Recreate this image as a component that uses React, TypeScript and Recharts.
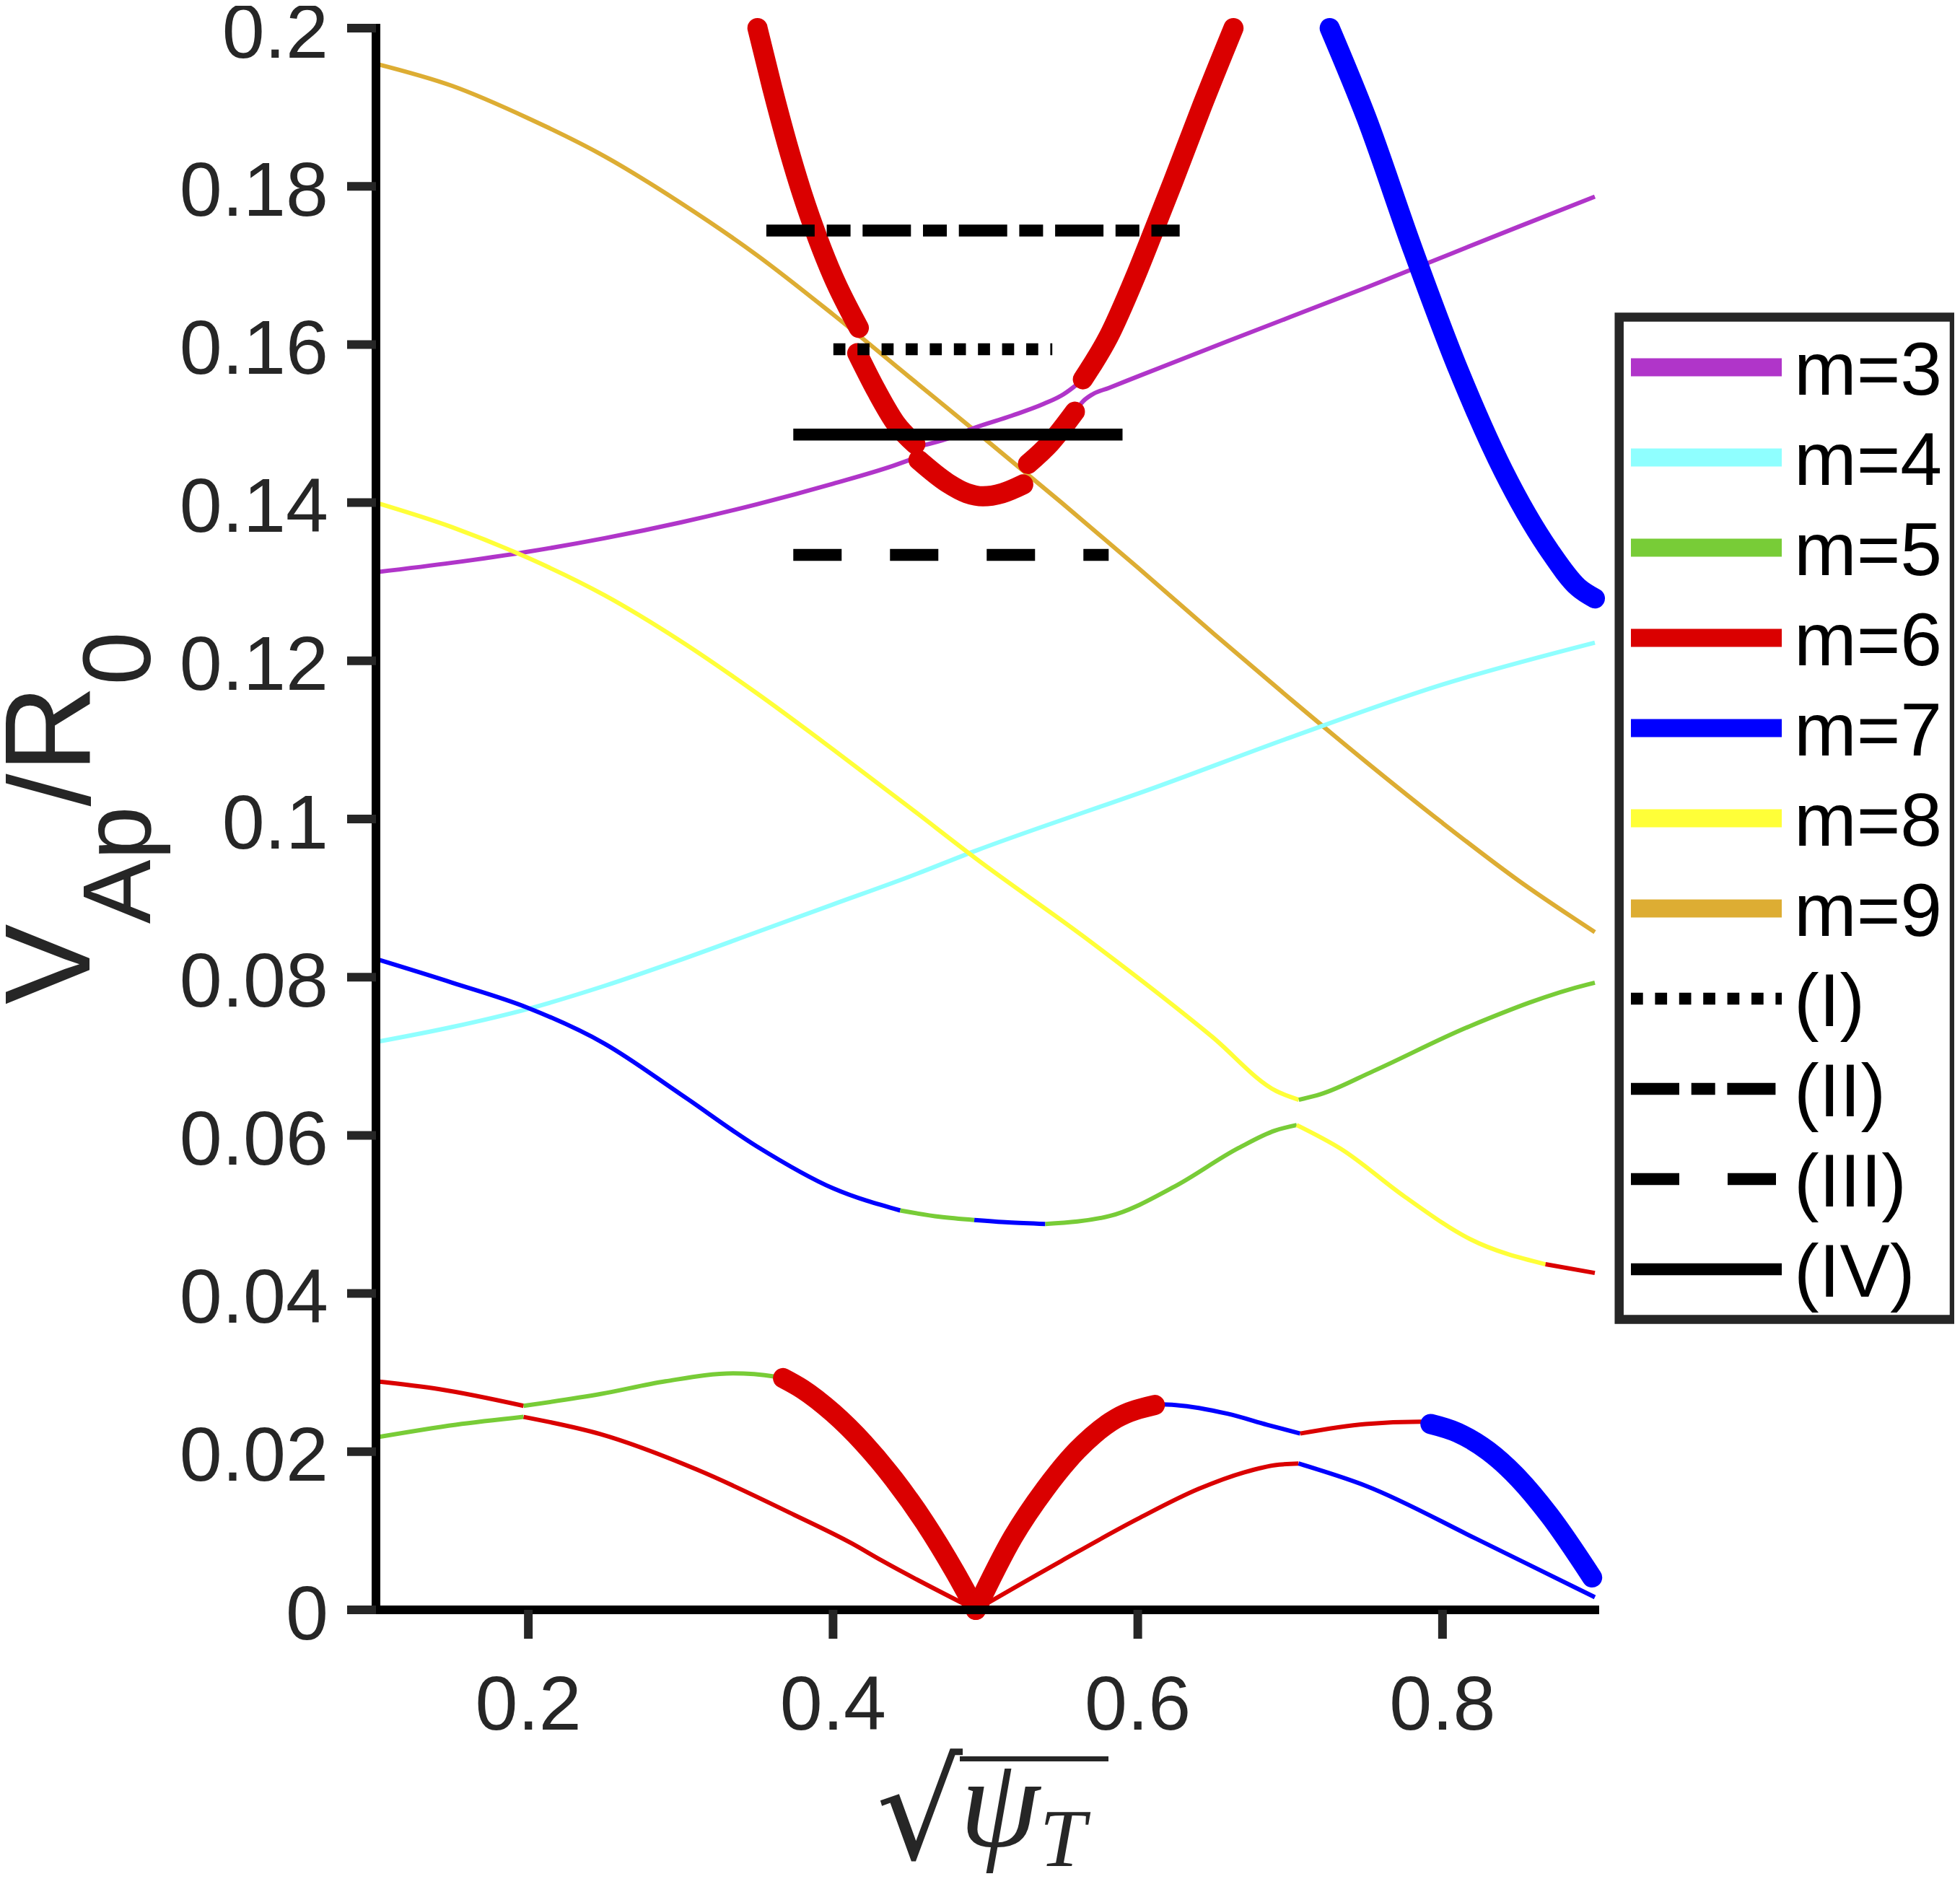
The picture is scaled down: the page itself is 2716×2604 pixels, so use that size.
import React from "react";
import { LineChart, Line, XAxis, YAxis, Legend } from "recharts";

// axis ticks
const xTicks = [0.2, 0.4, 0.6, 0.8];
const xTickLabels = ["0.2", "0.4", "0.6", "0.8"];
const yTicks = [0, 0.02, 0.04, 0.06, 0.08, 0.1, 0.12, 0.14, 0.16, 0.18, 0.2];
const yTickLabels = ["0", "0.02", "0.04", "0.06", "0.08", "0.1", "0.12", "0.14", "0.16", "0.18", "0.2"];

// continuum branches, [sqrt(psi_T), V/R0]
const m9Top = [
  [0.1, 0.1955], [0.15, 0.1927], [0.2, 0.1886], [0.25, 0.1838], [0.3, 0.1779], [0.35, 0.1713],
  [0.4, 0.1638], [0.45, 0.1559], [0.5, 0.148], [0.55, 0.14], [0.6, 0.1318], [0.65, 0.1234],
  [0.7, 0.1152], [0.75, 0.1072], [0.8, 0.0995], [0.85, 0.0922], [0.9, 0.0857],
];
const m3Left = [
  [0.1, 0.1312], [0.15, 0.1324], [0.2, 0.1338], [0.25, 0.1355], [0.3, 0.1375], [0.35, 0.1398],
  [0.4, 0.1424], [0.44, 0.1447], [0.4545, 0.1457],
];
const m3Mid = [
  [0.4582, 0.1472], [0.4751, 0.1481], [0.492, 0.1494], [0.5174, 0.151], [0.5384, 0.1525],
  [0.5512, 0.1537], [0.5597, 0.1549], [0.564, 0.1556],
];
const m3Right = [
  [0.5587, 0.1515], [0.564, 0.1528], [0.5703, 0.1537], [0.5809, 0.1545], [0.6019, 0.1561],
  [0.6588, 0.1604], [0.75, 0.1672], [0.85, 0.1749], [0.9, 0.1787],
];
const m6ThickA = [
  [0.3504, 0.2], [0.36, 0.1925], [0.37, 0.1853], [0.38, 0.1789], [0.39, 0.1734], [0.4, 0.1686], [0.4169, 0.1621],
];
const m6ThickB = [[0.4159, 0.1589], [0.4286, 0.1541], [0.4412, 0.15], [0.454, 0.1474]];
const m6ThickC = [
  [0.4561, 0.1454], [0.4751, 0.1425], [0.4878, 0.1412], [0.4984, 0.1408], [0.5111, 0.1412], [0.5248, 0.1423],
];
const m6ThickD = [[0.528, 0.1449], [0.5428, 0.1476], [0.5587, 0.1515]];
const m6ThickE = [
  [0.564, 0.1556], [0.5809, 0.161], [0.5978, 0.1683], [0.6105, 0.1744], [0.6232, 0.1806],
  [0.6425, 0.1903], [0.6628, 0.2],
];
const m7ThickTop = [
  [0.726, 0.2], [0.75, 0.1887], [0.78, 0.1723], [0.81, 0.157], [0.84, 0.144], [0.87, 0.134],
  [0.889, 0.1293], [0.9, 0.1279],
];
const m4Cyan = [
  [0.1, 0.0718], [0.15, 0.0737], [0.2, 0.076], [0.25, 0.0789], [0.3, 0.0822], [0.35, 0.0857],
  [0.4, 0.0892], [0.45, 0.0927], [0.4938, 0.096], [0.564, 0.1008], [0.6, 0.1032], [0.7, 0.1103],
  [0.8, 0.117], [0.9, 0.1223],
];
const m8Yellow = [
  [0.1, 0.14], [0.15, 0.1369], [0.2, 0.133], [0.25, 0.1283], [0.3, 0.1225], [0.35, 0.1159],
  [0.4, 0.1088], [0.45, 0.1015], [0.4938, 0.095], [0.564, 0.0852], [0.6486, 0.0725],
  [0.6909, 0.0656], [0.7057, 0.0645],
];
const m5UpperRight = [[0.7057, 0.0645], [0.72, 0.0652], [0.7544, 0.0681], [0.8179, 0.0738], [0.8957, 0.0791], [0.9, 0.0793]];
const m7Mid = [
  [0.1, 0.0823], [0.15, 0.0793], [0.2, 0.0761], [0.25, 0.0716], [0.3, 0.0652], [0.35, 0.0586],
  [0.4, 0.0533], [0.4441, 0.0505],
];
const m5MidA = [[0.4441, 0.0505], [0.47, 0.0497], [0.4927, 0.0493]];
const m7MidB = [[0.4927, 0.0493], [0.515, 0.049], [0.5393, 0.0488]];
const m5MidC = [[0.5393, 0.0488], [0.5816, 0.0498], [0.6239, 0.0535], [0.6662, 0.0584], [0.69, 0.0606], [0.7043, 0.0613]];
const m8LowerRight = [[0.7043, 0.0613], [0.7332, 0.0583], [0.7755, 0.0522], [0.8179, 0.0469], [0.8676, 0.0437]];
const m6EdgeRight = [[0.8676, 0.0437], [0.9, 0.0426]];
const m6BotUpperLeft = [[0.1, 0.0289], [0.1418, 0.0279], [0.1969, 0.0258]];
const m5BotUpper = [[0.1969, 0.0258], [0.2476, 0.0273], [0.29, 0.0289], [0.3344, 0.0299], [0.3619, 0.0295], [0.3672, 0.0293]];
const m6ThickVLeft = [[0.3672, 0.0293], [0.38, 0.0279], [0.4, 0.0249], [0.42, 0.0211], [0.44, 0.0165], [0.46, 0.0111], [0.48, 0.0048], [0.4937, 0]];
const m6ThickVRight = [[0.4937, 0], [0.5181, 0.0092], [0.5393, 0.0153], [0.5604, 0.0202], [0.5858, 0.0242], [0.6112, 0.0259]];
const m7BotUpper = [[0.6112, 0.026], [0.625, 0.0259], [0.6588, 0.0248], [0.685, 0.0234], [0.7066, 0.0223]];
const m6BotUpperRight = [[0.7066, 0.0223], [0.7495, 0.0235], [0.7857, 0.0238], [0.7921, 0.0236]];
const m7ThickBot = [[0.7921, 0.0235], [0.81, 0.0224], [0.83, 0.0201], [0.85, 0.0166], [0.87, 0.012], [0.8982, 0.0041]];
const m5BotLower = [[0.1, 0.0218], [0.1524, 0.0234], [0.1969, 0.0244]];
const m6BotLowerLeft = [[0.1969, 0.0244], [0.2476, 0.0222], [0.3111, 0.0177], [0.3746, 0.012], [0.4123, 0.0084], [0.4313, 0.0063], [0.4937, 0]];
const m6BotLowerRight = [[0.4937, 0], [0.55, 0.0062], [0.6, 0.0115], [0.64, 0.0153], [0.67, 0.0174], [0.69, 0.0183], [0.7055, 0.0185]];
const m7BotLower = [[0.7055, 0.0185], [0.7495, 0.0157], [0.822, 0.009], [0.8873, 0.0028], [0.9, 0.0016]];

// frequency levels (I)-(IV)
const levelI = [[0.4002, 0.1594], [0.5439, 0.1594]];
const levelII = [[0.3562, 0.1744], [0.6275, 0.1744]];
const levelIII = [[0.3739, 0.1334], [0.5809, 0.1334]];
const levelIV = [[0.3739, 0.1486], [0.59, 0.1486]];

const legendLabels = ["m=3", "m=4", "m=5", "m=6", "m=7", "m=8", "m=9", "(I)", "(II)", "(III)", "(IV)"];

const C3 = "#B035C9";
const C4 = "#8FFFFF";
const C5 = "#78CC37";
const C6 = "#DA0000";
const C7 = "#0000FF";
const C8 = "#FFFF38";
const C9 = "#DDAD33";

const THIN = 6;
const THICK = 28;
const LEVEL = 16.5;

const DOT = "16.7 16.7";
const DASHDOT = "67 16.7 33 16.7";
const DASH = "67 67";

const FONT = "'Liberation Sans', Arial, Helvetica, sans-serif";

const pts = (a: number[][]) => a.map(([x, y]) => ({ x, y }));

const thinSegs: [number[][], string][] = [
  [m9Top, C9], [m3Left, C3], [m3Mid, C3], [m3Right, C3], [m4Cyan, C4], [m8Yellow, C8],
  [m5UpperRight, C5], [m7Mid, C7], [m5MidA, C5], [m7MidB, C7], [m5MidC, C5], [m8LowerRight, C8],
  [m6EdgeRight, C6], [m6BotUpperLeft, C6], [m5BotUpper, C5], [m7BotUpper, C7], [m6BotUpperRight, C6],
  [m5BotLower, C5], [m6BotLowerLeft, C6], [m6BotLowerRight, C6], [m7BotLower, C7],
];
const thickSegs: [number[][], string][] = [
  [m6ThickA, C6], [m6ThickB, C6], [m6ThickC, C6], [m6ThickD, C6], [m6ThickE, C6],
  [m7ThickTop, C7], [m6ThickVLeft, C6], [m6ThickVRight, C6], [m7ThickBot, C7],
];
const levelSegs: [number[][], string | undefined][] = [
  [levelI, DOT], [levelII, DASHDOT], [levelIII, DASH], [levelIV, undefined],
];

const legendStyles: { color: string; width: number; dash?: string }[] = [
  { color: C3, width: 25 }, { color: C4, width: 25 }, { color: C5, width: 25 }, { color: C6, width: 25 },
  { color: C7, width: 25 }, { color: C8, width: 25 }, { color: C9, width: 25 },
  { color: "#000", width: LEVEL, dash: DOT }, { color: "#000", width: LEVEL, dash: DASHDOT },
  { color: "#000", width: LEVEL, dash: DASH }, { color: "#000", width: LEVEL },
];

function LegendBox() {
  return (
    <svg width={486} height={1420} style={{ display: "block" }}>
      <rect x={13.7} y={13.5} width={464.3} height={1389} fill="#fff" stroke="#262626" strokeWidth={12.5} />
      {legendLabels.map((label, i) => {
        const cy = 83 + i * 125;
        const s = legendStyles[i];
        return (
          <g key={label}>
            <line x1={30} x2={239} y1={cy} y2={cy} stroke={s.color} strokeWidth={s.width} strokeDasharray={s.dash} />
            <text x={256} y={cy + 38} fontSize={104} fontFamily={FONT} fill="#000">
              {label}
            </text>
          </g>
        );
      })}
    </svg>
  );
}

function XLabel() {
  return (
    <g>
      <text x={1326} y={2568} fontFamily="'DejaVu Serif', serif" fontSize={188} textAnchor="end" fill="#262626">
        √
      </text>
      <line x1={1322} x2={1528} y1={2429.5} y2={2429.5} stroke="#262626" strokeWidth={7} />
      <text x={1322} y={2550} fontFamily="'Liberation Serif', 'DejaVu Serif', serif" fontStyle="italic" fontSize={178} fill="#262626">
        ψ<tspan dy={28} fontSize={115}>T</tspan>
      </text>
    </g>
  );
}

function YLabel() {
  return (
    <text
      x={116}
      y={1126}
      transform="rotate(-90 116 1126)"
      textAnchor="middle"
      fontSize={168}
      fontFamily={FONT}
      fill="#262626"
    >
      V
      <tspan fontSize={133} dy={84}>Ap</tspan>
      <tspan dy={-84}>/R</tspan>
      <tspan fontSize={133} dy={84}>0</tspan>
    </text>
  );
}

export default function App() {
  return (
    <LineChart width={2708} height={2596} margin={{ top: 31, right: 506, bottom: 0, left: 0 }} style={{ fontFamily: FONT }}>
      {thinSegs.map(([d, c], i) => (
        <Line
          key={`thin${i}`}
          data={pts(d)}
          dataKey="y"
          type="monotone"
          stroke={c}
          strokeWidth={THIN}
          strokeLinejoin="round"
          dot={false}
          activeDot={false}
          legendType="none"
          isAnimationActive={false}
        />
      ))}
      {thickSegs.map(([d, c], i) => (
        <Line
          key={`thick${i}`}
          data={pts(d)}
          dataKey="y"
          type="monotone"
          stroke={c}
          strokeWidth={THICK}
          strokeLinecap="round"
          strokeLinejoin="round"
          dot={false}
          activeDot={false}
          legendType="none"
          isAnimationActive={false}
        />
      ))}
      {levelSegs.map(([d, dash], i) => (
        <Line
          key={`level${i}`}
          data={pts(d)}
          dataKey="y"
          type="linear"
          stroke="#000"
          strokeWidth={LEVEL}
          strokeDasharray={dash}
          dot={false}
          activeDot={false}
          legendType="none"
          isAnimationActive={false}
        />
      ))}
      <XAxis
        dataKey="x"
        type="number"
        domain={[0.1, 0.9]}
        ticks={xTicks}
        interval={0}
        tickFormatter={(_v: number, i: number) => xTickLabels[i]}
        height={373}
        tickSize={40}
        tickMargin={51}
        tick={{ fontSize: 106, fill: "#262626", fontFamily: FONT }}
        tickLine={{ stroke: "#262626", strokeWidth: 12 }}
        axisLine={{ stroke: "#000", strokeWidth: 12, strokeLinecap: "square" }}
        label={<XLabel />}
      />
      <YAxis
        type="number"
        domain={[0, 0.2]}
        ticks={yTicks}
        interval={0}
        tickFormatter={(_v: number, i: number) => yTickLabels[i]}
        width={513}
        tickSize={40}
        tickMargin={26}
        tick={{ fontSize: 106, fill: "#262626", fontFamily: FONT, dy: 3 }}
        tickLine={{ stroke: "#262626", strokeWidth: 12 }}
        axisLine={{ stroke: "#000", strokeWidth: 12, strokeLinecap: "square" }}
        label={<YLabel />}
      />
      <XAxis
        xAxisId="top"
        orientation="top"
        type="number"
        domain={[0.1, 0.9]}
        height={0}
        tick={false}
        tickLine={false}
        axisLine={{ stroke: "#000", strokeWidth: 12, strokeLinecap: "square" }}
      />
      <YAxis
        yAxisId="right"
        orientation="right"
        type="number"
        domain={[0, 0.2]}
        width={0}
        tick={false}
        tickLine={false}
        axisLine={{ stroke: "#000", strokeWidth: 12, strokeLinecap: "square" }}
      />
      <Legend
        layout="vertical"
        align="center"
        verticalAlign="middle"
        wrapperStyle={{ left: 2222, top: 418, width: 486, height: 1420 }}
        content={() => <LegendBox />}
      />
    </LineChart>
  );
}
